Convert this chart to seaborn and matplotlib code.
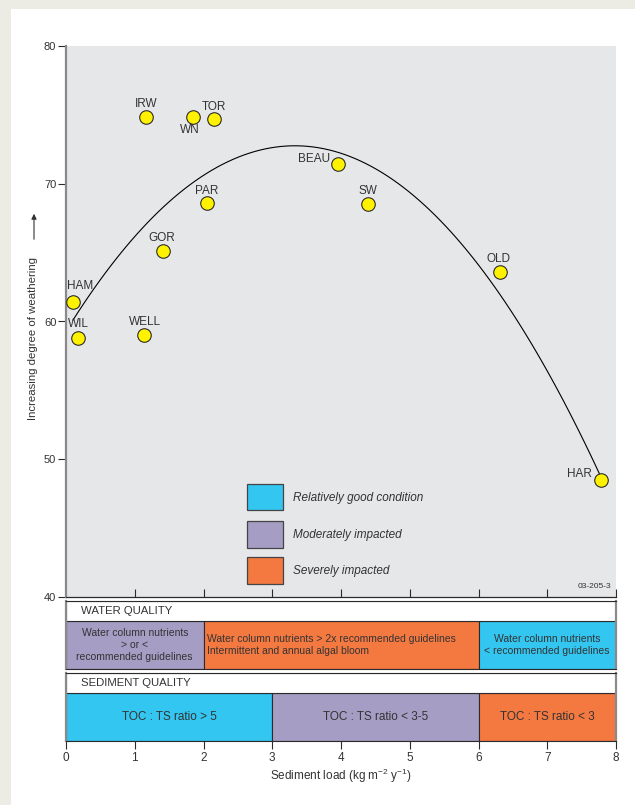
import matplotlib
matplotlib.use("Agg")
import matplotlib.pyplot as plt
from matplotlib.patches import Rectangle, FancyArrowPatch
import numpy as np
import pandas as pd
import seaborn as sns

# ---- data -----------------------------------------------------------------
sites = ["IRW", "WN", "TOR", "BEAU", "SW", "PAR", "GOR", "OLD", "HAM", "WIL", "WELL", "HAR"]
sediment_load = [1.16, 1.85, 2.15, 3.96, 4.39, 2.05, 1.41, 6.31, 0.10, 0.18, 1.13, 7.78]
weathering = [74.85, 74.85, 74.7, 71.4, 68.5, 68.6, 65.1, 63.6, 61.4, 58.8, 59.0, 48.5]

condition_labels = ["Relatively good condition", "Moderately impacted", "Severely impacted"]
condition_colors = ["#33C6F1", "#A59DC4", "#F47941"]

water_bounds = [0, 2, 6, 8]
water_condition = [1, 2, 0]
water_text = ["Water column nutrients\n> or <\nrecommended guidelines",
              "Water column nutrients > 2x recommended guidelines\nIntermittent and annual algal bloom",
              "Water column nutrients\n< recommended guidelines"]
sediment_bounds = [0, 3, 6, 8]
sediment_condition = [0, 1, 2]
sediment_text = ["TOC : TS ratio > 5", "TOC : TS ratio < 3-5", "TOC : TS ratio < 3"]

x_ticks = [0, 1, 2, 3, 4, 5, 6, 7, 8]
y_ticks = [40, 50, 60, 70, 80]

# ---- style ------------------------------------------------------------------
sns.set_theme(style="white")
NARROW = ["Liberation Sans Narrow", "Liberation Sans", "DejaVu Sans"]
REGULAR = ["Liberation Sans", "DejaVu Sans"]
plt.rcParams["font.family"] = REGULAR
plt.rcParams["mathtext.default"] = "regular"
TXT = "#333333"
DARK = "#2b2b2b"
GREY_EDGE = "#8a8a8a"

W, H = 635, 805
fig = plt.figure(figsize=(W / 100, H / 100), dpi=100, facecolor="#ECECE4")
fig.patches.append(Rectangle((11 / W, 0), 1, 1 - 9 / H, transform=fig.transFigure,
                             facecolor="white", edgecolor="none", zorder=-10))


def box(left, top, right, bottom):
    return [left / W, 1 - bottom / H, (right - left) / W, (bottom - top) / H]


# ---- main scatter panel -----------------------------------------------------
ax = fig.add_axes(box(66, 46, 616, 597))
ax.set_facecolor("#E6E7E9")
df = pd.DataFrame({"site": sites, "load": sediment_load, "weathering": weathering})

# second-order trend through the sites
sns.regplot(data=df, x="load", y="weathering", order=2, ci=None, scatter=False,
            truncate=True, ax=ax, line_kws=dict(color="black", lw=0.8, zorder=2))
sns.scatterplot(data=df, x="load", y="weathering", ax=ax, s=95, color="#FFF200",
                edgecolor=DARK, linewidth=0.8, zorder=5, legend=False)

label_offsets = {
    "IRW": (0, 13, "center"), "WN": (-3, -13, "center"), "TOR": (0, 12.5, "center"),
    "BEAU": (-8.5, 5, "right"), "SW": (0, 13, "center"), "PAR": (0, 12.5, "center"),
    "GOR": (-1, 13, "center"), "OLD": (-1, 12.5, "center"), "HAM": (7, 16, "center"),
    "WIL": (0.5, 14, "center"), "WELL": (1.5, 13, "center"), "HAR": (-9, 6, "right"),
}
for s, xv, yv in zip(sites, sediment_load, weathering):
    dx, dy, ha = label_offsets[s]
    ax.annotate(s, (xv, yv), xytext=(dx, dy), textcoords="offset pixels",
                ha=ha, va="center", fontsize=8.5, color=TXT, zorder=6)

ax.set_xlim(0, 8)
ax.set_ylim(40, 80)
ax.set_yticks(y_ticks)
ax.set_yticklabels([str(v) for v in y_ticks], family=NARROW, fontsize=8, color=TXT)
ax.set_xticks(x_ticks[1:])
ax.tick_params(axis="x", direction="in", length=6, width=0.8, color=DARK,
               labelbottom=False, bottom=True)
ax.tick_params(axis="y", direction="out", length=6, width=0.8, color=DARK, pad=1,
               left=True)
ax.set_xlabel("")
ax.set_ylabel("")
for side in ("top", "right"):
    ax.spines[side].set_visible(False)
ax.spines["left"].set_color(GREY_EDGE)
ax.spines["left"].set_linewidth(1.6)
ax.spines["bottom"].set_color(DARK)
ax.spines["bottom"].set_linewidth(0.9)
ax.text(0.992, 0.012, "03-205-3", transform=ax.transAxes, ha="right", va="bottom",
        family=NARROW, fontsize=6, color=TXT)

# condition key
leg_top = [484, 521, 557]
for t, lab, col in zip(leg_top, condition_labels, condition_colors):
    fig.patches.append(Rectangle((247 / W, 1 - (t + 26.5) / H), 36 / W, 26.5 / H,
                                 transform=fig.transFigure, facecolor=col,
                                 edgecolor="#444444", lw=0.9, zorder=5))
    fig.text(293 / W, 1 - (t + 13.5) / H, lab, ha="left", va="center",
             style="italic", fontsize=8.5, color=TXT, zorder=6)

fig.text(33 / W, 1 - 338 / H, "Increasing degree of weathering", rotation=90,
         ha="center", va="center", family=NARROW, fontsize=8.2, color=TXT)
fig.patches.append(FancyArrowPatch(
    (34 / W, 1 - 242 / H), (34 / W, 1 - 211 / H), transform=fig.transFigure,
    arrowstyle="-|>,head_length=3,head_width=1.5", color=TXT, lw=0.8))


# ---- quality strips ---------------------------------------------------------
def strip(rect, title, bounds, cond, texts, text_style, size):
    a = fig.add_axes(box(*rect))
    band = 48 / 68
    starts = bounds[:-1]
    widths = np.diff(bounds)
    a.barh(0, widths, left=starts, height=band, align="edge",
           color=[condition_colors[c] for c in cond], edgecolor=DARK, lw=0.8)
    a.barh(band, 8, left=0, height=1 - band, align="edge", color="white",
           edgecolor=DARK, lw=0.8)
    a.text(0.22, band + (1 - band) / 2, title, va="center", ha="left",
           family=NARROW, fontsize=8.2, color=TXT)
    for x0, w, t, st in zip(starts, widths, texts, text_style):
        if st == "left":
            a.text(x0 + 0.05, band / 2, t, ha="left", va="center", family=NARROW,
                   fontsize=size, color=TXT, linespacing=1.2)
        else:
            a.text(x0 + w / 2, band / 2, t, ha="center", va="center", family=NARROW,
                   fontsize=size, color=TXT, linespacing=1.2)
    a.set_xlim(0, 8)
    a.set_ylim(0, 1)
    a.set_yticks([])
    for side in ("left", "right"):
        a.spines[side].set_color(GREY_EDGE)
        a.spines[side].set_linewidth(1.6)
    for side in ("top", "bottom"):
        a.spines[side].set_color(DARK)
        a.spines[side].set_linewidth(0.8)
    return a


wa = strip((66, 601, 616, 669), "WATER QUALITY", water_bounds, water_condition,
           water_text, ["center", "left", "center"], 7.5)
wa.set_xticks([])

sa = strip((66, 673, 616, 741), "SEDIMENT QUALITY", sediment_bounds,
           sediment_condition, sediment_text, ["center"] * 3, 8.5)
sa.set_xticks(x_ticks)
sa.set_xticklabels([str(v) for v in x_ticks], family=NARROW, fontsize=8.5, color=TXT)
sa.tick_params(axis="x", direction="out", length=6, width=0.8, color=DARK, pad=2,
               bottom=True)
sa.set_xlabel("Sediment load (kg m$^{-2}$ y$^{-1}$)", family=NARROW, fontsize=8.5,
              color=TXT, labelpad=2)

fig.savefig("out.png", dpi=100, facecolor=fig.get_facecolor())
